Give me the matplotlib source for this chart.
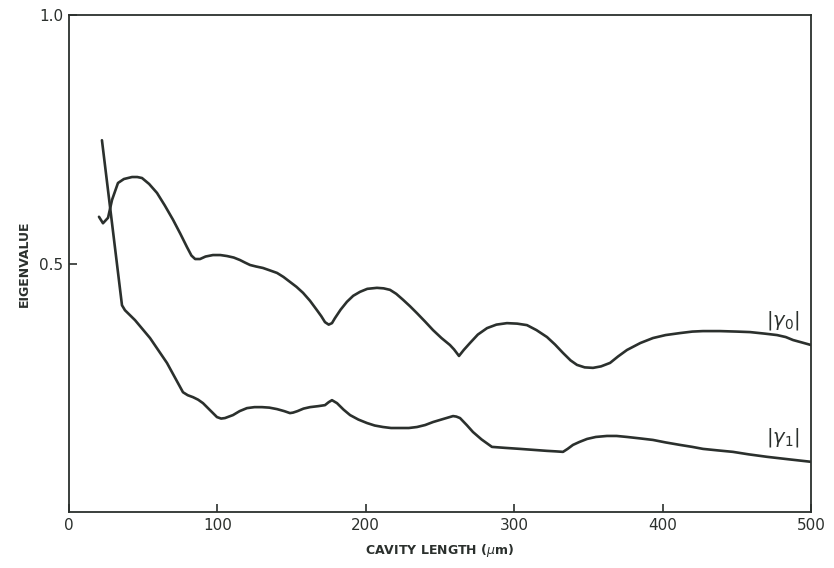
import matplotlib
matplotlib.use("Agg")
import matplotlib.pyplot as plt

# |gamma_0| curve (upper)
g0_x = [20.2, 22.9, 26.3, 29.0, 33.0, 37.0, 42.5, 46.0, 49.2, 54.0, 59.3, 64.5, 70.1,
        75.0, 79.5, 82.5, 85.0, 88.3, 92.0, 97.0, 102.0, 106.5, 111.0, 115.2, 118.5,
        122.0, 126.0, 130.7, 135.5, 140.2, 144.5, 148.9, 153.3, 157.7, 162.4, 167.1,
        170.0, 172.5, 175.0, 177.2, 179.2, 183.0, 187.3, 191.5, 196.1, 201.0, 207.5,
        212.0, 216.3, 220.5, 225.1, 229.8, 234.5, 240.0, 245.3, 251.0, 256.7, 259.5,
        262.8, 266.0, 270.2, 275.5, 281.7, 288.0, 295.1, 302.0, 308.6, 315.0, 322.1,
        327.5, 332.9, 338.0, 342.3, 347.5, 353.1, 358.5, 364.6, 370.0, 376.0, 385.0,
        393.5, 402.0, 411.7, 420.0, 427.2, 438.7, 450.0, 458.9, 468.5, 477.1, 483.0,
        487.9, 494.0, 500.0]
g0_y = [0.594, 0.581, 0.592, 0.628, 0.662, 0.670, 0.674, 0.674, 0.672, 0.660, 0.642,
        0.617, 0.588, 0.560, 0.533, 0.516, 0.509, 0.509, 0.514, 0.517, 0.517, 0.515,
        0.512, 0.507, 0.502, 0.497, 0.494, 0.491, 0.486, 0.481, 0.473, 0.463, 0.453,
        0.441, 0.425, 0.406, 0.394, 0.382, 0.377, 0.380, 0.390, 0.407, 0.423, 0.435,
        0.443, 0.449, 0.451, 0.450, 0.447, 0.439, 0.427, 0.414, 0.400, 0.383, 0.366,
        0.350, 0.336, 0.327, 0.314, 0.326, 0.340, 0.357, 0.370, 0.377, 0.380, 0.379,
        0.376, 0.366, 0.352, 0.337, 0.320, 0.305, 0.296, 0.291, 0.290, 0.293, 0.300,
        0.313, 0.326, 0.340, 0.350, 0.356, 0.360, 0.363, 0.364, 0.364, 0.363, 0.362,
        0.359, 0.356, 0.352, 0.346, 0.341, 0.336]

# |gamma_1| curve (lower)
g1_x = [22.2, 35.7, 37.7, 44.5, 54.6, 66.0, 76.8, 80.0, 83.6, 87.0, 90.3, 95.0, 99.7,
        102.5, 105.1, 110.5, 115.0, 119.9, 125.0, 130.0, 135.0, 140.2, 145.0, 148.9,
        151.0, 154.0, 158.0, 162.4, 168.0, 172.5, 175.0, 177.2, 180.6, 185.0, 189.4,
        195.0, 200.8, 206.0, 211.6, 217.0, 223.0, 229.0, 234.5, 240.0, 245.3, 252.0,
        258.8, 261.0, 263.5, 268.0, 272.2, 278.0, 285.0, 294.0, 303.9, 313.0, 322.1,
        328.0, 332.9, 336.0, 339.6, 344.0, 349.1, 355.0, 362.5, 369.0, 376.0, 385.0,
        393.5, 402.0, 411.7, 420.0, 427.2, 437.0, 447.4, 458.0, 470.4, 485.0, 500.0]
g1_y = [0.748, 0.416, 0.406, 0.386, 0.350, 0.300, 0.241, 0.235, 0.231, 0.226, 0.219,
        0.205, 0.191, 0.188, 0.189, 0.195, 0.203, 0.209, 0.211, 0.211, 0.210, 0.207,
        0.203, 0.199, 0.200, 0.203, 0.208, 0.211, 0.213, 0.215, 0.221, 0.225, 0.219,
        0.206, 0.195, 0.186, 0.179, 0.174, 0.171, 0.169, 0.169, 0.169, 0.171, 0.175,
        0.181, 0.187, 0.193, 0.192, 0.189, 0.175, 0.161, 0.146, 0.131, 0.129, 0.127,
        0.125, 0.123, 0.122, 0.121, 0.127, 0.135, 0.141, 0.147, 0.151, 0.153, 0.153,
        0.151, 0.148, 0.145, 0.140, 0.135, 0.131, 0.127, 0.124, 0.121, 0.116, 0.111,
        0.106, 0.101]

x_ticks = [0, 100, 200, 300, 400, 500]
x_ticklabels = ["0", "100", "200", "300", "400", "500"]
y_ticks = [0.5, 1.0]
y_ticklabels = ["0.5", "1.0"]

ink = "#2b302d"

fig = plt.figure(figsize=(8.34, 5.68), dpi=100)
ax = fig.add_axes([69 / 834, 56 / 568, (811 - 69) / 834, (512 - 15) / 568])

ax.plot(g0_x, g0_y, color=ink, lw=1.9, solid_joinstyle="round", solid_capstyle="round")
ax.plot(g1_x, g1_y, color=ink, lw=1.9, solid_joinstyle="round", solid_capstyle="round")

ax.set_xlim(0, 500)
ax.set_ylim(0, 1.0)
ax.set_xticks(x_ticks)
ax.set_xticklabels(x_ticklabels)
ax.set_yticks(y_ticks)
ax.set_yticklabels(y_ticklabels)
ax.tick_params(direction="in", length=6, width=1.2, color=ink, labelcolor=ink,
               labelsize=11, pad=4)

for s in ax.spines.values():
    s.set_color(ink)
    s.set_linewidth(1.3)

ax.set_xlabel("CAVITY LENGTH ($\\mu$m)", fontsize=9, color=ink, labelpad=7,
              fontweight="bold")
ax.set_ylabel("EIGENVALUE", fontsize=9, color=ink, labelpad=6, fontweight="bold")

ax.text(481, 0.386, r"$|\gamma_0|$", fontsize=14, color=ink, ha="center", va="center")
ax.text(481, 0.149, r"$|\gamma_1|$", fontsize=14, color=ink, ha="center", va="center")

fig.savefig("out.png", dpi=100, facecolor="white")
